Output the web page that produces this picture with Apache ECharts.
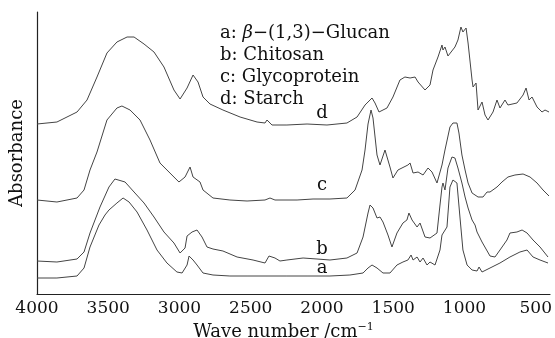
<!DOCTYPE html>
<html>
<head>
<meta charset="utf-8">
<script src="https://cdn.jsdelivr.net/npm/echarts@6/dist/echarts.min.js"></script>
<style>
  html, body { margin: 0; padding: 0; background: #fff; }
  #chart { width: 555px; height: 338px; }
</style>
</head>
<body>
<div id="chart"></div>
<script>
// IR spectra, [wave number, absorbance (arbitrary, offset per curve)]
const starch = [
  [4000,170],[3860,172],[3719,182],[3649,194],[3579,217],[3509,241],[3439,252],[3368,257],[3319,257],
  [3249,250],[3179,242],[3109,227],[3039,204],[2996,195],[2947,206],[2905,219],[2870,212],[2835,197],
  [2786,190],[2695,184],[2575,177],[2456,172],[2400,171],[2386,174],[2351,169],[2246,169],[2105,170],
  [1965,169],[1825,171],[1754,177],[1698,189],[1649,196],[1628,191],[1600,182],[1544,186],[1502,197],
  [1453,214],[1418,217],[1382,216],[1347,217],[1326,212],[1277,204],[1242,209],[1221,224],[1186,237],
  [1158,249],[1151,244],[1137,247],[1116,238],[1067,247],[1046,254],[1025,267],[1011,262],[989,266],
  [975,251],[947,214],[940,207],[919,211],[905,184],[877,192],[856,179],[835,174],[800,182],[772,194],
  [751,186],[716,194],[695,189],[632,191],[589,199],[568,206],[547,194],[526,197],[491,187],[456,182],
  [435,184],[407,182]
];
const glycoprotein = [
  [4000,94],[3860,92],[3719,96],[3670,104],[3628,124],[3579,142],[3509,174],[3439,186],[3404,188],
  [3347,184],[3277,174],[3207,154],[3137,131],[3067,121],[3004,112],[2961,117],[2926,127],[2905,117],
  [2856,112],[2835,104],[2765,96],[2646,94],[2526,93],[2400,94],[2365,96],[2330,94],[2175,94],
  [2063,95],[1944,95],[1825,96],[1768,104],[1719,124],[1698,144],[1677,170],[1656,184],[1642,176],
  [1614,139],[1593,129],[1558,144],[1523,127],[1502,116],[1467,124],[1397,129],[1382,131],[1361,121],
  [1326,122],[1291,119],[1256,126],[1228,122],[1193,111],[1158,129],[1137,144],[1102,167],[1081,171],
  [1053,171],[1039,161],[1018,139],[996,124],[975,111],[947,101],[905,97],[870,97],[842,102],
  [821,102],[772,107],[737,112],[695,117],[646,119],[589,120],[540,117],[491,111],[449,104],[407,98]
];
const chitosan = [
  [4000,33],[3860,32],[3719,35],[3670,42],[3628,61],[3558,87],[3495,107],[3453,115],[3382,112],
  [3319,102],[3249,91],[3179,77],[3109,62],[3039,51],[2996,41],[2961,46],[2947,58],[2912,62],
  [2877,64],[2842,57],[2807,47],[2765,45],[2695,43],[2596,37],[2484,34],[2400,31],[2372,38],
  [2330,36],[2295,33],[2246,34],[2133,36],[2035,35],[1944,34],[1825,36],[1754,41],[1712,57],
  [1677,81],[1663,89],[1642,86],[1614,76],[1593,77],[1572,72],[1537,59],[1509,47],[1474,61],
  [1432,71],[1404,74],[1390,81],[1368,74],[1333,67],[1312,71],[1277,57],[1242,56],[1193,61],
  [1172,89],[1158,107],[1151,111],[1137,104],[1116,126],[1088,137],[1067,136],[1046,126],[1018,111],
  [996,97],[975,86],[947,74],[926,69],[912,62],[898,64],[877,52],[821,38],[786,37],[751,44],
  [702,54],[681,61],[632,62],[596,64],[561,61],[519,54],[470,47],[414,37]
];
const glucan = [
  [4000,16],[3860,16],[3719,18],[3670,26],[3628,47],[3565,69],[3523,79],[3495,84],[3439,91],
  [3396,96],[3354,92],[3298,82],[3228,64],[3158,44],[3088,31],[3018,22],[2982,21],[2947,29],
  [2933,38],[2905,34],[2877,29],[2835,21],[2765,19],[2646,18],[2526,18],[2386,18],[2246,18],
  [2105,18],[1944,18],[1804,19],[1712,21],[1677,26],[1649,29],[1614,26],[1572,21],[1523,21],
  [1474,29],[1432,32],[1397,34],[1375,39],[1361,34],[1333,37],[1312,32],[1291,36],[1263,29],
  [1242,32],[1207,29],[1193,31],[1172,44],[1158,59],[1151,57],[1123,67],[1102,107],[1081,114],
  [1067,116],[1053,111],[1032,77],[1011,44],[982,29],[947,24],[912,23],[898,27],[877,22],
  [821,26],[751,31],[681,37],[611,42],[561,44],[519,37],[470,34],[414,31]
];

const curveNames = ['a', 'b', 'c', 'd'];
const curveData = [glucan, chitosan, glycoprotein, starch];
// where the letter of each curve sits: [wave number, absorbance]
const labelPos = [[2000, 26], [2000, 45], [2000, 109], [2000, 181]];
const xTicks = [500, 1000, 1500, 2000, 2500, 3000, 3500, 4000];

const serif = 'DejaVu Serif';
const chart = echarts.init(document.getElementById('chart'));

chart.setOption({
  animation: false,
  grid: { left: 37, right: 5, top: 12, bottom: 44, outerBoundsMode: 'none', containLabel: false },
  xAxis: {
    type: 'value',
    inverse: true,
    min: 400,
    max: 4000,
    name: '{n|Wave number /cm}{s|−1}',
    nameLocation: 'middle',
    nameGap: 23,
    nameTextStyle: {
      padding: [0, 20, 0, 0],
      rich: {
        n: { fontFamily: serif, fontSize: 18, color: '#111' },
        s: { fontFamily: serif, fontSize: 11, color: '#111', padding: [0, 0, 9, 0] }
      }
    },
    axisLine: { lineStyle: { color: '#222', width: 1.2 } },
    axisTick: { show: false },
    splitLine: { show: false },
    axisLabel: {
      customValues: xTicks,
      formatter: v => String(v),
      fontFamily: serif,
      fontSize: 17,
      color: '#111',
      margin: 6
    }
  },
  yAxis: {
    type: 'value',
    min: 0,
    max: 282,
    name: 'Absorbance',
    nameLocation: 'middle',
    nameGap: 11,
    nameTextStyle: { fontFamily: serif, fontSize: 18, color: '#111' },
    axisLine: { show: true, lineStyle: { color: '#222', width: 1.2 } },
    axisTick: { show: false },
    axisLabel: { show: false },
    splitLine: { show: false }
  },
  graphic: [{
    type: 'text',
    left: 220,
    top: 24,
    style: {
      text: '{t|a: }{i|β}{t|−(1,3)−Glucan}\n{t|b: Chitosan}\n{t|c: Glycoprotein}\n{t|d: Starch}',
      rich: {
        t: { fontFamily: serif, fontSize: 18, lineHeight: 22, fill: '#111' },
        i: { fontFamily: serif, fontSize: 18, lineHeight: 22, fontStyle: 'italic', fill: '#111' }
      }
    }
  }],
  series: curveData.map((d, i) => ({
    name: curveNames[i],
    type: 'line',
    data: d,
    showSymbol: false,
    smooth: false,
    lineStyle: { color: '#444', width: 1 },
    markPoint: {
      symbol: 'circle',
      symbolSize: 0,
      data: [{ coord: labelPos[i] }],
      label: {
        show: true,
        position: 'inside',
        formatter: curveNames[i],
        fontFamily: serif,
        fontSize: 18,
        color: '#111'
      }
    }
  }))
});
</script>
</body>
</html>
